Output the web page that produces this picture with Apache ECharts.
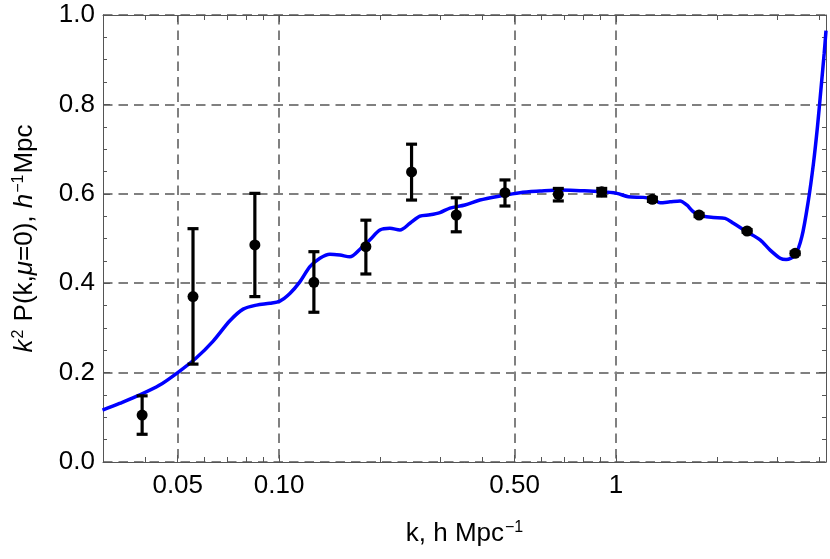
<!DOCTYPE html>
<html>
<head>
<meta charset="utf-8">
<script src="https://cdn.jsdelivr.net/npm/echarts@6/dist/echarts.min.js"></script>
<style>
  html, body { margin: 0; padding: 0; background: #fff; }
  #chart { width: 830px; height: 559px; }
</style>
</head>
<body>
<div id="chart"></div>
<script>
// theory curve, k in h/Mpc
const curveK = [0.0299, 0.0336, 0.0386, 0.0442, 0.0500, 0.0566, 0.0636, 0.0714, 0.0782, 0.0857,
  0.0939, 0.1005, 0.1076, 0.1152, 0.1234, 0.1321, 0.1415, 0.1515, 0.1622, 0.1737,
  0.1860, 0.1991, 0.2132, 0.2283, 0.2445, 0.2618, 0.2803, 0.3001, 0.3214, 0.3560,
  0.3945, 0.4522, 0.5187, 0.5947, 0.6820, 0.7819, 0.8965, 1.005, 1.088, 1.205,
  1.291, 1.351, 1.447, 1.549, 1.622, 1.696, 1.816, 1.945, 2.107, 2.231,
  2.445, 2.677, 2.867, 3.070, 3.198, 3.401, 3.561, 3.725, 3.855, 3.962,
  4.055, 4.148, 4.2];
const curveP = [0.116, 0.131, 0.150, 0.172, 0.200, 0.232, 0.270, 0.316, 0.342, 0.351,
  0.355, 0.360, 0.377, 0.403, 0.437, 0.456, 0.465, 0.463, 0.459, 0.476,
  0.497, 0.519, 0.523, 0.519, 0.534, 0.550, 0.553, 0.558, 0.568, 0.575,
  0.586, 0.595, 0.6025, 0.606, 0.6085, 0.607, 0.605, 0.601, 0.5935, 0.592,
  0.588, 0.580, 0.582, 0.584, 0.575, 0.560, 0.550, 0.547, 0.545, 0.534,
  0.515, 0.497, 0.474, 0.456, 0.453, 0.463, 0.504, 0.586, 0.668, 0.750,
  0.832, 0.914, 0.965];

// measured points with error bars
const ptK  = [0.0392, 0.0555, 0.0847, 0.1268, 0.1809, 0.2472, 0.3355, 0.4681, 0.674, 0.9069, 1.282, 1.764, 2.449, 3.401];
const ptP  = [0.105, 0.370, 0.4855, 0.402, 0.4817, 0.649, 0.5526, 0.6025, 0.5988, 0.6048, 0.5876, 0.5526, 0.5168, 0.4668];
const ptLo = [0.062, 0.219, 0.370, 0.335, 0.4206, 0.586, 0.515, 0.5727, 0.584, 0.595, 0.583, 0.549, 0.514, 0.464];
const ptHi = [0.148, 0.522, 0.601, 0.4705, 0.541, 0.711, 0.591, 0.631, 0.612, 0.612, 0.592, 0.556, 0.520, 0.470];

// axis ticks
const xMajor = [0.05, 0.1, 0.5, 1];
const xMajorLabels = ['0.05', '0.10', '0.50', '1'];
const xMinor = [0.04, 0.06, 0.07, 0.08, 0.09, 0.2, 0.3, 0.4, 0.6, 0.7, 0.8, 0.9, 2, 3, 4];

const font = 'Liberation Sans, Arial, sans-serif';
const frame = '#555';
const gridDash = { color: '#808080', width: 2, type: [9.5, 6] };

const xBase = {
  type: 'log',
  logBase: 10,
  min: 0.03,
  max: 4.2,
  gridIndex: 0,
  axisLine: { show: true, lineStyle: { color: frame, width: 1 } },
  splitLine: { show: false },
  axisLabel: { show: false },
};
const yBase = {
  type: 'value',
  min: 0,
  max: 1,
  interval: 0.2,
  axisLine: { show: true, lineStyle: { color: frame, width: 1 } },
  axisTick: { show: true, inside: true, length: 7, lineStyle: { color: frame } },
  minorTick: { show: true, splitNumber: 4, length: 4, lineStyle: { color: frame } },
  splitLine: { show: false },
  axisLabel: { show: false },
};

const options = {
  animation: false,
  backgroundColor: '#fff',
  grid: { left: 103, right: 4, top: 15, bottom: 97, containLabel: false, outerBoundsMode: 'none' },
  xAxis: [
    Object.assign({}, xBase, {
      position: 'bottom',
      axisTick: { show: true, inside: true, length: 7, customValues: xMajor, lineStyle: { color: frame } },
      axisLabel: {
        show: true, customValues: xMajor, margin: 11,
        fontSize: 26, fontFamily: font, color: '#000',
        formatter: (v) => xMajorLabels[xMajor.findIndex(m => Math.abs(m - v) < 1e-9)] ?? ''
      },
      splitLine: { show: true, lineStyle: gridDash },
      name: 'k, h Mpc{sup|−1}',
      nameLocation: 'middle',
      nameGap: 58,
      nameMoveOverlap: false,
      nameTextStyle: {
        fontSize: 26, fontFamily: font, color: '#000',
        rich: { sup: { fontSize: 16, fontFamily: font, color: '#000', verticalAlign: 'top', padding: [0, 0, 12, 1] } }
      },
    }),
    Object.assign({}, xBase, {
      position: 'bottom',
      axisLine: { show: false },
      axisTick: { show: true, inside: true, length: 5, customValues: xMinor, lineStyle: { color: frame } },
    }),
    Object.assign({}, xBase, {
      position: 'top',
      axisTick: { show: true, inside: true, length: 7, customValues: xMajor, lineStyle: { color: frame } },
    }),
    Object.assign({}, xBase, {
      position: 'top',
      axisLine: { show: false },
      axisTick: { show: true, inside: true, length: 5, customValues: xMinor, lineStyle: { color: frame } },
    }),
  ],
  yAxis: [
    Object.assign({}, yBase, {
      position: 'left',
      axisLabel: {
        show: true, margin: 8, fontSize: 26, fontFamily: font, color: '#000',
        formatter: (v) => v.toFixed(1)
      },
      splitLine: { show: true, lineStyle: gridDash },
      name: '{i|k}{sup|2} P(k,{i|μ}=0), {i|h}{sup|−1}Mpc',
      nameLocation: 'middle',
      nameRotate: 90,
      nameGap: 64,
      nameMoveOverlap: false,
      nameTextStyle: {
        fontSize: 26, fontFamily: font, color: '#000',
        rich: {
          i: { fontSize: 26, fontFamily: font, fontStyle: 'italic', color: '#000' },
          sup: { fontSize: 16, fontFamily: font, color: '#000', verticalAlign: 'top', padding: [0, 1, 12, 1] }
        }
      },
    }),
    Object.assign({}, yBase, { position: 'right' }),
  ],
  series: [
    {
      name: 'theory',
      type: 'line',
      xAxisIndex: 0,
      yAxisIndex: 0,
      data: curveK.map((k, i) => [k, curveP[i]]),
      smooth: 0.3,
      showSymbol: false,
      symbol: 'none',
      clip: true,
      lineStyle: { color: '#0000ff', width: 3.5 },
      z: 3,
    },
    {
      name: 'errors',
      type: 'custom',
      xAxisIndex: 0,
      yAxisIndex: 0,
      data: ptK.map((k, i) => [k, ptLo[i], ptHi[i]]),
      encode: { x: 0, y: [1, 2] },
      renderItem: (params, api) => {
        const lo = api.coord([api.value(0), api.value(1)]);
        const hi = api.coord([api.value(0), api.value(2)]);
        const w = 5.5;
        const style = { stroke: '#000', lineWidth: 3.2 };
        return {
          type: 'group',
          children: [
            { type: 'line', shape: { x1: lo[0], y1: lo[1], x2: hi[0], y2: hi[1] }, style },
            { type: 'line', shape: { x1: lo[0] - w, y1: lo[1], x2: lo[0] + w, y2: lo[1] }, style },
            { type: 'line', shape: { x1: hi[0] - w, y1: hi[1], x2: hi[0] + w, y2: hi[1] }, style },
          ]
        };
      },
      z: 4,
    },
    {
      name: 'points',
      type: 'scatter',
      xAxisIndex: 0,
      yAxisIndex: 0,
      data: ptK.map((k, i) => [k, ptP[i]]),
      symbol: 'circle',
      symbolSize: 11,
      itemStyle: { color: '#000', opacity: 1 },
      z: 5,
    },
  ],
};

const chart = echarts.init(document.getElementById('chart'));
chart.setOption(options);

window.addEventListener('resize', () => {
  chart.resize();
});
</script>
</body>
</html>
